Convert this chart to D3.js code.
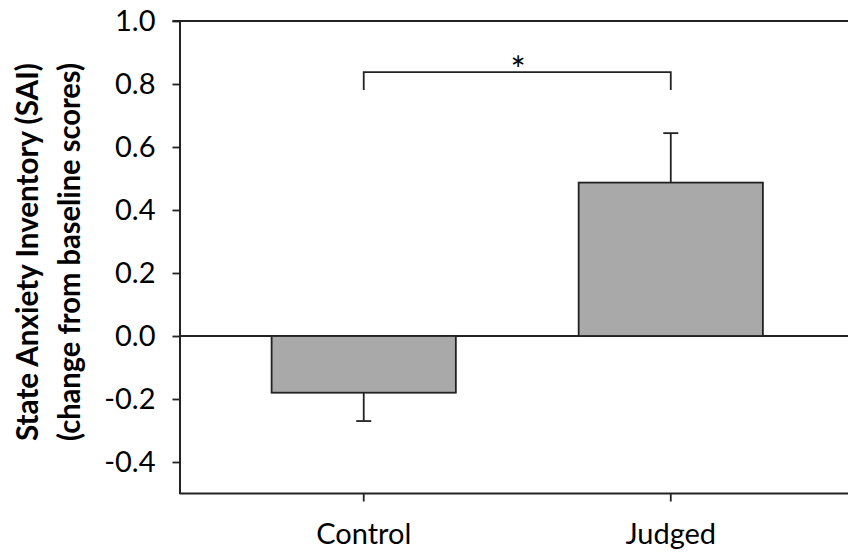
<!DOCTYPE html>
<html>
<head>
<meta charset="utf-8">
<script src="https://cdn.jsdelivr.net/npm/d3@7"></script>
<style>
  html, body { margin: 0; padding: 0; background: #fff; }
  svg { display: block; }
  text { font-family: Lato, "Open Sans", sans-serif; fill: #000; }
</style>
</head>
<body>
<svg id="chart" width="848" height="553"></svg>
<script>
// ---- data ----
const categories = ["Control", "Judged"];
const means = [-0.18, 0.487];
const errors = [0.09, 0.157];
const yTicks = [-0.4, -0.2, 0.0, 0.2, 0.4, 0.6, 0.8, 1.0];
const yTitleLines = ["State Anxiety Inventory (SAI)", "(change from baseline scores)"];
const significance = [{ from: "Control", to: "Judged", y: 0.838, drop: 0.057, label: "*" }];

// ---- layout ----
const W = 848, H = 553;
const plotLeft = 179.5, plotRight = 855, plotTop = 21, plotBottom = 493.5;
const axisColor = "#222";

const svg = d3.select("#chart");

const x = d3.scaleBand().domain(categories).range([plotLeft, plotRight])
  .paddingInner(0.4).paddingOuter(0.3);
const y = d3.scaleLinear().domain([-0.5, 1.0]).range([plotBottom, plotTop]);

// top frame line (extends to left with tick)
svg.append("line")
  .attr("x1", plotLeft - 7).attr("x2", W + 10)
  .attr("y1", y(1.0)).attr("y2", y(1.0))
  .attr("stroke", axisColor).attr("stroke-width", 2);

// zero line
svg.append("line")
  .attr("x1", plotLeft).attr("x2", W + 10)
  .attr("y1", y(0)).attr("y2", y(0))
  .attr("stroke", axisColor).attr("stroke-width", 1.8);

// bars
svg.append("g").selectAll("rect")
  .data(categories.map((c, i) => ({ c, v: means[i], e: errors[i] })))
  .join("rect")
  .attr("x", d => x(d.c))
  .attr("width", x.bandwidth())
  .attr("y", d => y(Math.max(0, d.v)))
  .attr("height", d => Math.abs(y(d.v) - y(0)))
  .attr("fill", "#a9a9a9")
  .attr("stroke", axisColor)
  .attr("stroke-width", 1.8);

// error bars (one-sided, away from zero)
const eb = svg.append("g").attr("stroke", axisColor).attr("stroke-width", 1.8);
categories.forEach((c, i) => {
  const cx = x(c) + x.bandwidth() / 2;
  const v = means[i], e = errors[i];
  const end = v >= 0 ? v + e : v - e;
  eb.append("line").attr("x1", cx).attr("x2", cx).attr("y1", y(v)).attr("y2", y(end));
  eb.append("line").attr("x1", cx - 7.5).attr("x2", cx + 7.5).attr("y1", y(end)).attr("y2", y(end));
});

// y axis
const yAxis = d3.axisLeft(y).tickValues(yTicks).tickFormat(d3.format(".1f"))
  .tickSize(7).tickPadding(17).tickSizeOuter(0);
const gy = svg.append("g").attr("transform", `translate(${plotLeft},0)`).call(yAxis);
gy.select(".domain").attr("stroke", axisColor).attr("stroke-width", 2);
gy.selectAll(".tick line").attr("stroke", axisColor).attr("stroke-width", 1.8);
gy.selectAll(".tick text")
  .style("font-family", "Lato, sans-serif").style("font-size", "29px").attr("fill", "#000")
  .attr("dy", "0.34em")
  .text(d => d3.format(".1f")(d).replace("\u2212", "-"));

// x axis
const xAxis = d3.axisBottom(x).tickSize(8).tickPadding(22).tickSizeOuter(0);
const gx = svg.append("g").attr("transform", `translate(0,${plotBottom})`).call(xAxis);
gx.select(".domain").attr("stroke", axisColor).attr("stroke-width", 2)
  .attr("d", `M${plotLeft},0H${W + 10}`);
gx.selectAll(".tick line").attr("stroke", axisColor).attr("stroke-width", 1.8);
gx.selectAll(".tick text")
  .style("font-family", "Lato, sans-serif").style("font-size", "29px").attr("fill", "#000");

// y title (two lines, bold, rotated)
const titleBaselines = [38, 80];
const titleCenterY = 252;
yTitleLines.forEach((t, i) => {
  svg.append("text")
    .attr("transform", `translate(${titleBaselines[i]},${titleCenterY}) rotate(-90)`)
    .attr("text-anchor", "middle")
    .attr("textLength", 378)
    .attr("lengthAdjust", "spacingAndGlyphs")
    .style("font-weight", "bold").style("font-size", "31px")
    .text(t);
});

// significance bracket
significance.forEach(s => {
  const x1 = x(s.from) + x.bandwidth() / 2;
  const x2 = x(s.to) + x.bandwidth() / 2;
  const path = d3.path();
  path.moveTo(x1, y(s.y - s.drop));
  path.lineTo(x1, y(s.y));
  path.lineTo(x2, y(s.y));
  path.lineTo(x2, y(s.y - s.drop));
  svg.append("path").attr("d", path.toString())
    .attr("fill", "none").attr("stroke", axisColor).attr("stroke-width", 1.8);
  svg.append("text")
    .attr("x", (x1 + x2) / 2 + 1).attr("y", y(s.y) + 11)
    .attr("text-anchor", "middle")
    .style("font-size", "36px")
    .text(s.label);
});
</script>
</body>
</html>
